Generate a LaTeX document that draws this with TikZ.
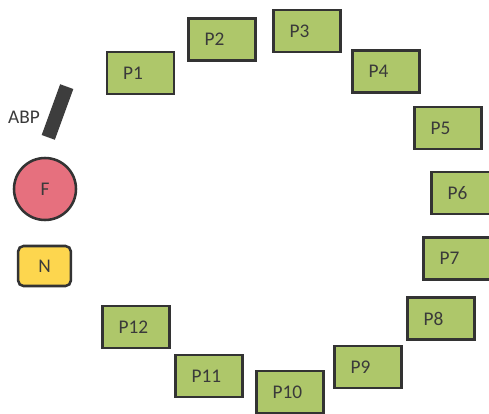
\documentclass[tikz,border=0pt]{standalone}
\usepackage{fontspec}
\setmainfont{Carlito}
\definecolor{plantgreen}{HTML}{AEC76A}
\definecolor{firered}{HTML}{E6707E}
\definecolor{noteyellow}{HTML}{FDD64E}
\definecolor{edgegray}{HTML}{333333}
\definecolor{textgray}{HTML}{3A3A3A}
\tikzset{
  pbox/.style={draw=edgegray, line width=1.9pt, fill=plantgreen, minimum width=50pt,
    minimum height=31.5pt, inner xsep=12pt, inner ysep=0pt, text width=26pt, align=left,
    text=textgray},
}
\begin{document}
\begin{tikzpicture}[x=0.75pt, y=-0.75pt, font=\fontsize{14.5}{17}\selectfont]
        \clip (0,0) rectangle (489,414);
        \fill[white] (0,0) rectangle (489,414);
        \node[pbox] (p1) at (140.5,73) {P1};
        \node[pbox] (p2) at (222,39.5) {P2};
        \node[pbox] (p3) at (307,31) {P3};
        \node[pbox] (p4) at (386,71.5) {P4};
        \node[pbox] (p5) at (448,128) {P5};
        \node[pbox] (p6) at (465,193) {P6};
        \node[pbox] (p7) at (457,258.5) {P7};
        \node[pbox] (p8) at (441,318.5) {P8};
        \node[pbox] (p9) at (368,367) {P9};
        \node[pbox] (p10) at (290,392) {P10};
        \node[pbox] (p11) at (209,376) {P11};
        \node[pbox] (p12) at (136,327) {P12};
        \node[circle, draw=edgegray, line width=1.9pt, fill=firered, minimum size=46.5pt,
          inner sep=0pt, text=textgray] (f) at (45,189) {F};
        \node[rectangle, rounded corners=4pt, draw=edgegray, line width=1.9pt, fill=noteyellow,
          minimum width=39.5pt, minimum height=30pt, inner sep=0pt, text=textgray] (n) at (44.5,266) {N};
        \node[rectangle, fill=edgegray!95, minimum width=40.5pt, minimum height=10.5pt,
          inner sep=0pt, rotate=70] (abp) at (57.5,112) {};
        \node[text=textgray] (abplabel) at (24,117) {ABP};
    \end{tikzpicture}
\end{document}
